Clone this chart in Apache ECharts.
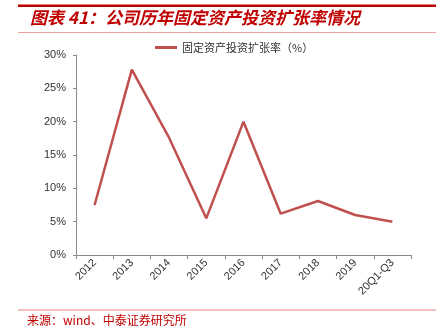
<!DOCTYPE html>
<html><head><meta charset="utf-8">
<script src="https://cdn.jsdelivr.net/npm/echarts@6/dist/echarts.min.js"></script>
<style>html,body{margin:0;padding:0;background:#fff}#c{width:440px;height:336px}</style>
</head><body><div id="c"></div>
<script>
const categories = ['2012','2013','2014','2015','2016','2017','2018','2019','20Q1-Q3'];
const seriesName = '固定资产投资扩张率（%）';
const values = [7.5, 27.8, 17.6, 5.5, 20.0, 6.2, 8.1, 6.0, 5.0];
const yTicks = [0, 5, 10, 15, 20, 25, 30];
const titleText = '图表 41：公司历年固定资产投资扩张率情况';
const sourceText = '来源：wind、中泰证券研究所';

const chart = echarts.init(document.getElementById('c'), null, {renderer:'canvas'});
chart.setOption({
  animation:false,
  backgroundColor:'#fff',
  textStyle:{fontFamily:'"Liberation Sans", Arial, sans-serif'},
  graphic:[
    {type:'rect', shape:{x:18,y:4.5,width:418,height:2.5}, style:{fill:'#c00000'}},
    {type:'text', left:30, top:9, style:{text:titleText, fill:'#c00000', font:'italic bold 17px "Noto Sans CJK SC", sans-serif'}},
    {type:'rect', shape:{x:18,y:32,width:418,height:1}, style:{fill:'#f0a0a0'}},
    {type:'rect', shape:{x:18,y:309.5,width:418,height:1}, style:{fill:'#e88080'}},
    {type:'text', left:27, top:314, style:{text:sourceText, fill:'#c00000', font:'12px "Noto Sans CJK SC", sans-serif'}}
  ],
  legend:{
    top:37, left:150, itemWidth:22, itemHeight:3, itemGap:6,
    icon:'rect',
    textStyle:{fontSize:11, color:'#333', fontFamily:'"Noto Sans CJK SC", sans-serif'},
    data:[seriesName]
  },
  grid:{left:76, right:29, top:55, bottom:81, containLabel:false},
  xAxis:{
    type:'category', data:categories, boundaryGap:true,
    axisLine:{lineStyle:{color:'#898989', width:1}},
    axisTick:{show:true, length:4, lineStyle:{color:'#898989'}},
    axisLabel:{rotate:45, fontSize:11, color:'#333', margin:6, interval:0}
  },
  yAxis:{
    type:'value', min:0, max:30, interval:5,
    axisLine:{show:true, lineStyle:{color:'#898989', width:1}},
    axisTick:{show:true, length:3, lineStyle:{color:'#898989'}},
    splitLine:{show:false},
    axisLabel:{fontSize:11, color:'#333', margin:10, formatter: v => v + '%'}
  },
  series:[{
    name:seriesName, type:'line', data:values,
    symbol:'none', lineStyle:{color:'#c0504d', width:2.5}, itemStyle:{color:'#c0504d'}
  }]
});
</script></body></html>
